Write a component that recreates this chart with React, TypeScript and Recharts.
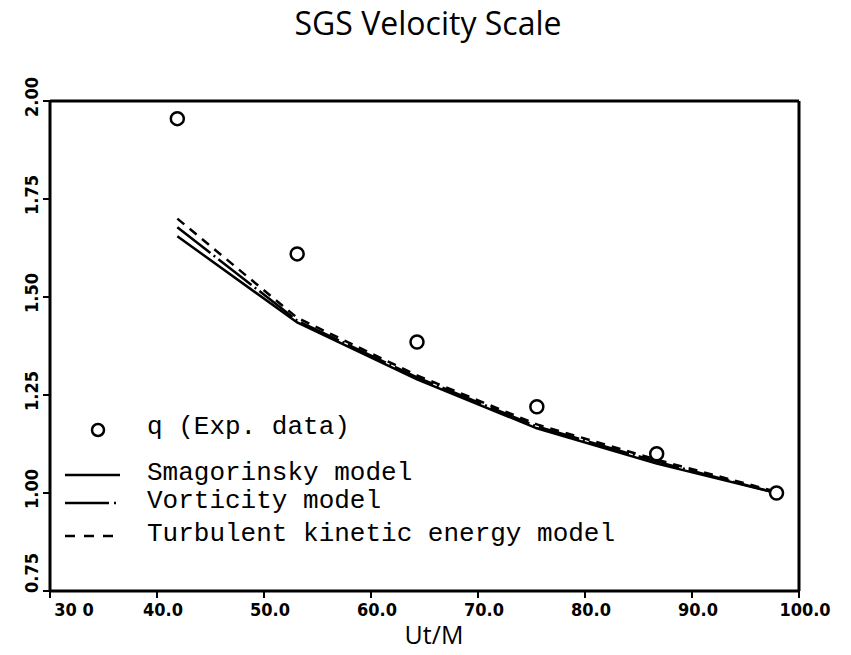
import React from 'react';
import { LineChart, Line, XAxis, YAxis } from 'recharts';

// Ut/M positions of the measurements (shared by all series)
const utM = [41.9, 53.1, 64.3, 75.5, 86.7, 97.9];
const qExp = [1.955, 1.61, 1.385, 1.22, 1.1, 1.0];
const smagorinsky = [1.655, 1.435, 1.29, 1.165, 1.075, 1.0];
const vorticity = [1.678, 1.44, 1.295, 1.17, 1.08, 1.0];
const tke = [1.7, 1.447, 1.3, 1.175, 1.085, 1.003];

const xTicks = [30, 40, 50, 60, 70, 80, 90, 100];
const xTickLabels = ['30 0', '40.0', '50.0', '60.0', '70.0', '80.0', '90.0', '100.0'];
const yTicks = [0.75, 1.0, 1.25, 1.5, 1.75, 2.0];
const yTickLabels = ['0.75', '1.00', '1.25', '1.50', '1.75', '2.00'];

const legendItems = [
  { label: 'q (Exp. data)', kind: 'circle' },
  { label: 'Smagorinsky model', kind: 'solid' },
  { label: 'Vorticity model', kind: 'dashdot' },
  { label: 'Turbulent kinetic energy model', kind: 'dash' },
];

const data = utM.map((x, i) => ({
  x,
  q: qExp[i],
  smag: smagorinsky[i],
  vort: vorticity[i],
  tke: tke[i],
}));

const tickFont = '"Liberation Sans Narrow", "Arial Narrow", "DejaVu Sans Condensed", sans-serif';
const titleFont = '"Open Sans", "Noto Sans", sans-serif';
const monoFont = '"Liberation Mono", "DejaVu Sans Mono", monospace';

const XTick = ({ x, y, payload }: any) => {
  const i = xTicks.indexOf(payload.value);
  const dx = payload.value === 30 ? 24 : 6;
  return (
    <text x={x + dx} y={y} dy="0.72em" textAnchor="middle" fontFamily={tickFont}
      fontWeight="bold" fontSize={18} fill="#000">
      {xTickLabels[i]}
    </text>
  );
};

const YTick = ({ x, y, payload }: any) => {
  const i = yTicks.indexOf(payload.value);
  const cx = x;
  // the bottom label sits above its tick, like the reference
  const cy = payload.value === 0.75 ? y - 18 : y - 4;
  return (
    <text x={cx} y={cy} textAnchor="middle" fontFamily={tickFont} fontWeight="bold"
      fontSize={18} fill="#000" transform={`rotate(-90, ${cx}, ${cy})`}>
      {yTickLabels[i]}
    </text>
  );
};

const Dot = ({ cx, cy }: any) => (
  <circle cx={cx} cy={cy} r={6.5} fill="#fff" stroke="#000" strokeWidth={2.5} />
);

const Overlay = () => (
  <svg width={851} height={655} style={{ position: 'absolute', left: 0, top: 0, pointerEvents: 'none' }}>
    <text x={428} y={35} textAnchor="middle" fontFamily={titleFont} fontSize={32} fill="#000">
      SGS Velocity Scale
    </text>
    <text x={434} y={644} textAnchor="middle" fontFamily={titleFont} fontSize={25} fill="#000">
      Ut/M
    </text>
    {legendItems.map((item, i) => {
      if (item.kind === 'circle') {
        return (
          <g key={i}>
            <circle cx={98} cy={430} r={6} fill="#fff" stroke="#000" strokeWidth={2.5} />
            <text x={147} y={427} dominantBaseline="central" fontFamily={monoFont} fontSize={26} fill="#000">
              {item.label}
            </text>
          </g>
        );
      }
      const ly = [475, 503, 536][i - 1];
      const x2 = item.kind === 'dash' ? 116 : item.kind === 'dashdot' ? 118 : 120;
      const dash = item.kind === 'dash' ? '10 9' : item.kind === 'dashdot' ? '44 5 2 100' : undefined;
      return (
        <g key={i}>
          <line x1={65} x2={x2} y1={ly} y2={ly} stroke="#000" strokeWidth={2.5} strokeDasharray={dash} />
          <text x={147} y={ly - 2} dominantBaseline="central" fontFamily={monoFont} fontSize={26} fill="#000">
            {item.label}
          </text>
        </g>
      );
    })}
  </svg>
);

export default function App() {
  const axisLine = { stroke: '#000', strokeWidth: 3 };
  const tickLine = { stroke: '#000', strokeWidth: 2 };
  return (
    <div style={{ position: 'absolute', left: 0, top: 0, width: 851, height: 655, background: '#fff' }}>
      <LineChart width={851} height={655} data={data}
        margin={{ top: 100, right: 51, bottom: 34, left: 10 }}>
        <XAxis dataKey="x" type="number" domain={[30, 100]} ticks={xTicks} height={30}
          allowDataOverflow axisLine={axisLine} tickLine={tickLine} tickSize={7} tickMargin={5}
          tick={<XTick />} interval={0} />
        <XAxis xAxisId="top" orientation="top" type="number" domain={[30, 100]} height={1}
          axisLine={axisLine} tick={false} tickLine={false} />
        <YAxis type="number" domain={[0.75, 2]} ticks={yTicks} width={40} allowDataOverflow
          axisLine={axisLine} tickLine={tickLine} tickSize={7} tickMargin={5}
          tick={<YTick />} interval={0} />
        <YAxis yAxisId="right" orientation="right" type="number" domain={[0.75, 2]} width={1}
          axisLine={axisLine} tick={false} tickLine={false} />
        <Line dataKey="smag" stroke="#000" strokeWidth={2.5} dot={false} isAnimationActive={false} />
        <Line dataKey="vort" stroke="#000" strokeWidth={2.5} strokeDasharray="42 4 2 4" dot={false}
          isAnimationActive={false} />
        <Line dataKey="tke" stroke="#000" strokeWidth={2.5} strokeDasharray="9 7" dot={false}
          isAnimationActive={false} />
        <Line dataKey="q" stroke="none" dot={<Dot />} isAnimationActive={false} />
      </LineChart>
      <Overlay />
    </div>
  );
}
